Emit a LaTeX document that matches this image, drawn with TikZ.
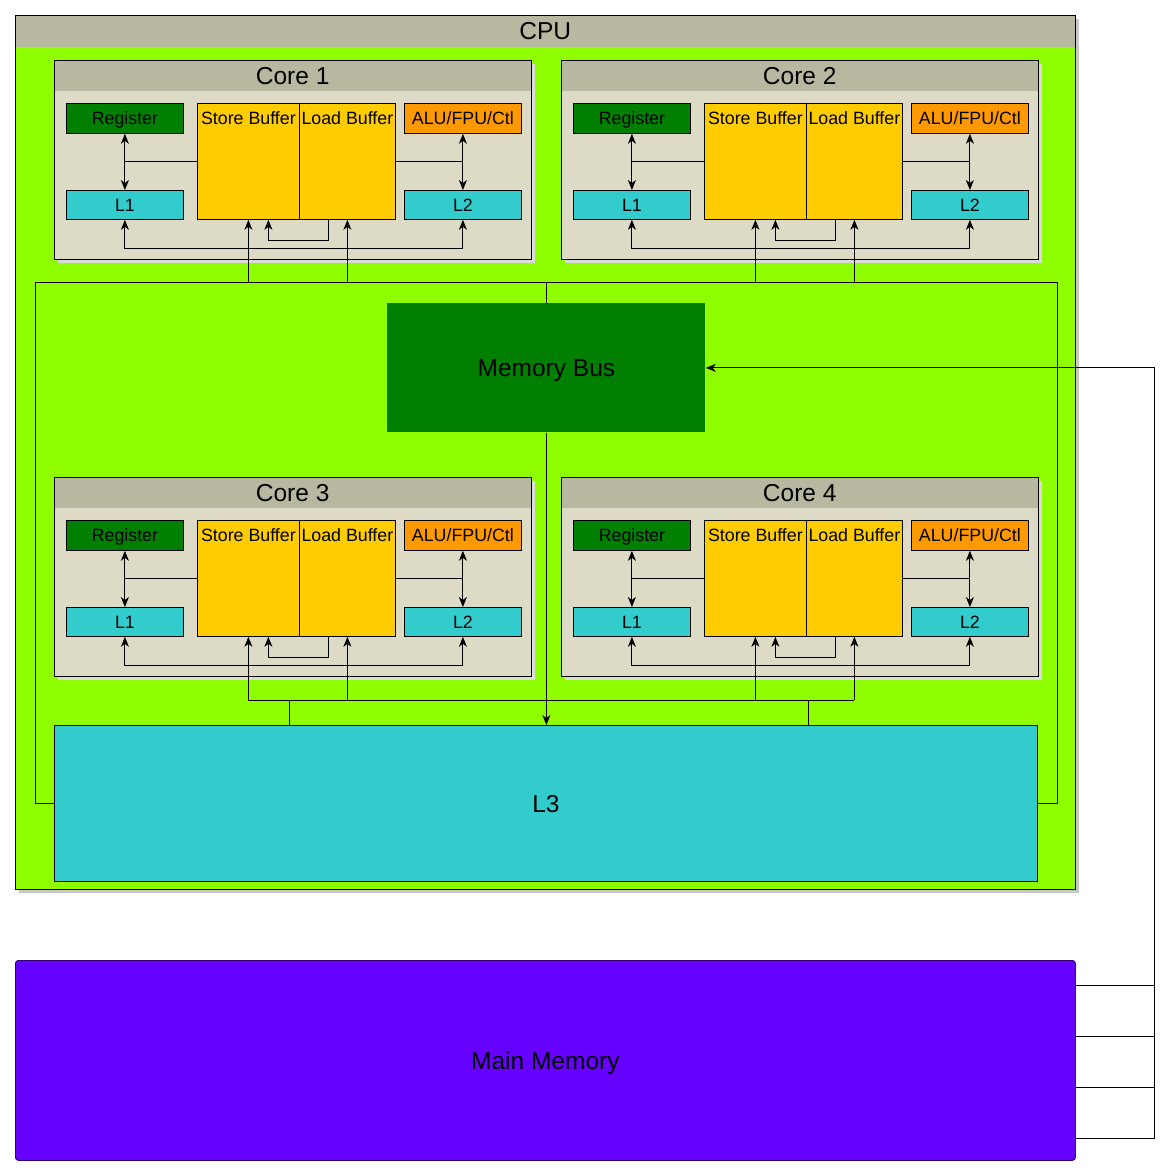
\documentclass[tikz,border=0pt]{standalone}
\usepackage{fontspec}
\setmainfont{Liberation Sans}
\usetikzlibrary{arrows.meta}

\definecolor{cpugreen}{HTML}{8FFF00}
\definecolor{hdrgray}{HTML}{B8B8A0}
\definecolor{corebg}{HTML}{DDDAC5}
\definecolor{darkgreen}{HTML}{007F00}
\definecolor{aluorange}{HTML}{FF9900}
\definecolor{bufyellow}{HTML}{FFCC00}
\definecolor{cachecyan}{HTML}{33CCCC}
\definecolor{mempurple}{HTML}{6600FF}

\newcommand{\bigfont}{\fontsize{24.5}{28}\selectfont}
\newcommand{\smallfont}{\fontsize{17.8}{20}\selectfont}

\tikzset{
  smalltext/.style={font=\smallfont, text height=12.7pt, text depth=0pt},
  bigtext/.style={font=\bigfont, text height=17.5pt, text depth=0pt},
  unitbox/.style={draw, line width=0.8pt, inner sep=0pt, anchor=north west, smalltext},
  smallbox/.style={unitbox, minimum width=117pt, minimum height=30pt},
  bufbox/.style={unitbox, fill=bufyellow, minimum height=116pt},
  hdrbox/.style={fill=hdrgray, inner sep=0pt, anchor=north west, bigtext, minimum height=31pt},
  link/.style={line width=0.9pt},
}

\begin{document}
\begin{tikzpicture}[x=1pt, y=-1pt, >={Stealth[length=10pt, width=8pt, inset=3pt]}]
            \useasboundingbox (0,0) rectangle (1170,1176);

            % cpu frame
            \fill[black!22] (19,19) rectangle (1079,893);
            \node[unitbox, fill=cpugreen, minimum width=1060pt, minimum height=874pt] (cpu) at (15,15) {};
            \node[hdrbox, minimum width=1060pt, minimum height=32pt] (cpu title) at (15,15) {CPU};
            \draw[link] (cpu.north west) rectangle (cpu.south east);

            \coordinate (topbus) at (35,282);
            \coordinate (topbus east) at (1057,282);
            \coordinate (lowbus) at (248,700);
            \coordinate (lowbus east) at (854,700);

            % the four cores
            \foreach \n/\dx/\dy/\bus in {
                1/0/0/topbus,
                2/507/0/topbus,
                3/0/417/lowbus,
                4/507/417/lowbus%
            } {
                \begin{scope}[shift={(\dx,\dy)}]
                    \fill[black!14] (58,64) rectangle (535,263);
                    \node[unitbox, draw=none, fill=corebg, minimum width=477pt, minimum height=199pt] (core\n) at (54,60) {};
                    \node[hdrbox, minimum width=477pt] (core\n title) at (54,60) {Core \n};
                    \draw[link] (core\n.north west) rectangle (core\n.south east);

                    \node[smallbox, fill=darkgreen] (reg\n) at (66,103) {Register};
                    \node[smallbox, fill=aluorange] (alu\n) at (404,103) {ALU/FPU/Ctl};
                    \node[smallbox, fill=cachecyan, minimum height=29pt] (l1\n) at (66,190) {L1};
                    \node[smallbox, fill=cachecyan, minimum height=29pt] (l2\n) at (404,190) {L2};
                    \node[bufbox, minimum width=102pt, label={[smalltext, anchor=center, yshift=-15.5pt]north:Store Buffer}] (sb\n) at (197,103) {};
                    \node[bufbox, minimum width=96pt, label={[smalltext, anchor=center, yshift=-15.5pt]north:Load Buffer}] (lb\n) at (299,103) {};

                    \draw[link, <->] (reg\n) -- (l1\n);
                    \draw[link] (sb\n.west) -- (sb\n.west -| reg\n);
                    \draw[link, <->] (alu\n) -- (l2\n);
                    \draw[link] (lb\n.east) -- (lb\n.east -| alu\n);
                    \draw[link, <->] (l1\n.south) -- ++(0,29) -| (l2\n.south);
                    \draw[link, ->] ([xshift=-19pt]lb\n.south) -- ++(0,21) -| ([xshift=20pt]sb\n.south);

                    \draw[link, ->] (sb\n.south |- \bus) -- (sb\n.south);
                    \draw[link, ->] (lb\n.south |- \bus) -- (lb\n.south);
                \end{scope}
            }

            \node[unitbox, draw=none, fill=darkgreen, minimum width=318pt, minimum height=129pt, bigtext] (mbus) at (387,303) {Memory Bus};
            \node[unitbox, fill=cachecyan, minimum width=983pt, minimum height=156pt, bigtext] (l3) at (54,725) {L3};
            \node[unitbox, draw=black!55!mempurple, fill=mempurple, rounded corners=3pt, minimum width=1060pt, minimum height=200pt, bigtext] (mainmem) at (15,960) {Main Memory};

            % buses
            \draw[link] (l3.west) -| (topbus) -- (topbus east) |- (l3.east);
            \draw[link] (mbus.north) -- (mbus.north |- topbus);
            \draw[link, ->] (mbus.south) -- (mbus.south |- l3.north);
            \draw[link] (lowbus) -- (lowbus east);
            \coordinate (drop1) at (289,700);
            \coordinate (drop2) at (808,700);
            \draw[link] (drop1) -- (drop1 |- l3.north);
            \draw[link] (drop2) -- (drop2 |- l3.north);

            % main memory link
            \coordinate (memtap) at (1154,1138);
            \draw[link, ->] (mainmem.east |- memtap) -- (memtap) |- (mbus.east);
            \foreach \yy in {985,1036,1087}
                \draw[link] (mainmem.east |- 0,\yy) -- (memtap |- 0,\yy);
        \end{tikzpicture}
\end{document}
